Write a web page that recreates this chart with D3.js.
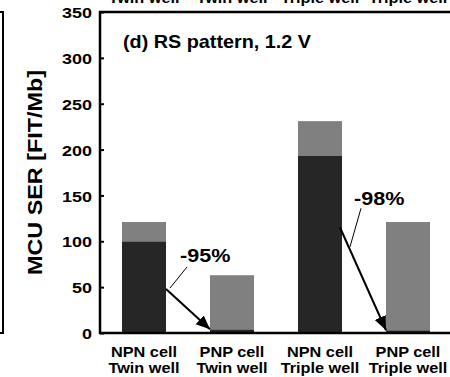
<!DOCTYPE html>
<html><head><meta charset="utf-8">
<script src="https://cdn.jsdelivr.net/npm/d3@7"></script>
<style>
html,body{margin:0;padding:0;background:#fff;}
svg{display:block;}
text{font-family:"Liberation Sans",Arial,sans-serif;font-weight:bold;fill:#000;}
</style></head>
<body>
<svg id="chart" width="450" height="377"></svg>
<script>
const cellTypes = ["NPN cell","PNP cell","NPN cell","PNP cell"];
const wellTypes = ["Twin well","Twin well","Triple well","Triple well"];
const darkValues = [100, 4, 193, 3];
const lightValues = [21, 59, 38, 118];
const yTicks = [0,50,100,150,200,250,300,350];
const reductionLabels = ["-95%","-98%"];
const arrowFromBar = [0, 2];
const arrowStartValues = [48, 115];
const arrowEndValues = [4, 3];
const labelValues = [77, 140];
const leaderFromValues = [72, 136];
const leaderToValues = [49, 94];

const svg = d3.select("#chart");
const keys = cellTypes.map((c,i)=>i);
const x = d3.scaleBand().domain(keys).range([100,452]).paddingInner(0.5).paddingOuter(0.25);
const y = d3.scaleLinear().domain([0,350]).range([333,12]);

function wideText(sel, px, py, sx, anchor, size, str){
  return sel.append("text").attr("transform","translate("+px+","+py+") scale("+sx+",1)")
    .attr("text-anchor",anchor).style("font-size",size+"px").text(str);
}

// neighbouring panel remnant (left frame edge)
svg.append("path").attr("d","M0,"+y(350)+"H3V"+y(0)+"H0").attr("fill","none").attr("stroke","#000").attr("stroke-width",2);

// top clipped labels of panel above
wellTypes.forEach((d,i)=>wideText(svg, x(i)+x.bandwidth()/2, 3, 1.05, "middle", 15.5, d));

// bars
const stack = keys.map(i=>({i, dark:darkValues[i], light:lightValues[i]}));
svg.selectAll(".dark").data(stack).enter().append("rect")
  .attr("x",d=>x(d.i)).attr("width",x.bandwidth())
  .attr("y",d=>y(d.dark)).attr("height",d=>y(0)-y(d.dark)).attr("fill","#262626");
svg.selectAll(".light").data(stack).enter().append("rect")
  .attr("x",d=>x(d.i)).attr("width",x.bandwidth())
  .attr("y",d=>y(d.dark+d.light)).attr("height",d=>y(d.dark)-y(d.dark+d.light)).attr("fill","#808080");

// frame/axes
const yAxis = d3.axisLeft(y).tickValues(yTicks).tickSize(-4).tickPadding(7);
const gy = svg.append("g").attr("transform","translate(100,0)").call(yAxis);
gy.select(".domain").remove();
gy.selectAll(".tick line").attr("stroke","#000").attr("stroke-width",2);
gy.selectAll(".tick text").attr("font-family",null).attr("font-size",null)
  .style("font-size","15.5px").attr("transform","scale(1.16,1)").attr("dy","0.36em");
svg.append("path").attr("d","M452,"+y(350)+"H100V"+y(0)+"H452").attr("fill","none").attr("stroke","#000").attr("stroke-width",2.5);

// category labels
keys.forEach(i=>{
  wideText(svg, x(i)+x.bandwidth()/2, 357, 1.05, "middle", 15.5, cellTypes[i]);
  wideText(svg, x(i)+x.bandwidth()/2, 373, 1.05, "middle", 15.5, wellTypes[i]);
});

// y title
svg.append("text").attr("transform","translate(42,"+((y(0)+y(350))/2)+") rotate(-90) scale(1.2,1)")
  .attr("text-anchor","middle").style("font-size","19.5px").text("MCU SER [FIT/Mb]");

// panel title
wideText(svg, 123, 48, 1.1, "start", 18, "(d) RS pattern, 1.2 V");

// arrow marker
svg.append("defs").append("marker").attr("id","ah").attr("markerUnits","userSpaceOnUse")
  .attr("markerWidth",16).attr("markerHeight",14).attr("refX",14).attr("refY",6)
  .attr("orient","auto").attr("viewBox","0 0 16 12")
  .append("path").attr("d","M0,0L14,6L0,12Z").attr("fill","#000");

arrowFromBar.forEach((b,k)=>{
  const x0 = x(b)+x.bandwidth() - (k===0?0:2);
  const x1 = x(b+1);
  svg.append("line").attr("x1",x0).attr("y1",y(arrowStartValues[k]))
    .attr("x2",x1).attr("y2",y(arrowEndValues[k]))
    .attr("stroke","#000").attr("stroke-width",2).attr("marker-end","url(#ah)");
  const lx = x(b)+x.bandwidth()+(k===0?14:12);
  wideText(svg, lx, y(labelValues[k]), 1.2, "start", 18, reductionLabels[k]);
  svg.append("line").attr("x1",lx+7).attr("y1",y(leaderFromValues[k]))
    .attr("x2",lx+(k===0?-10:-4)).attr("y2",y(leaderToValues[k]))
    .attr("stroke","#000").attr("stroke-width",1);
});
</script>
</body></html>
